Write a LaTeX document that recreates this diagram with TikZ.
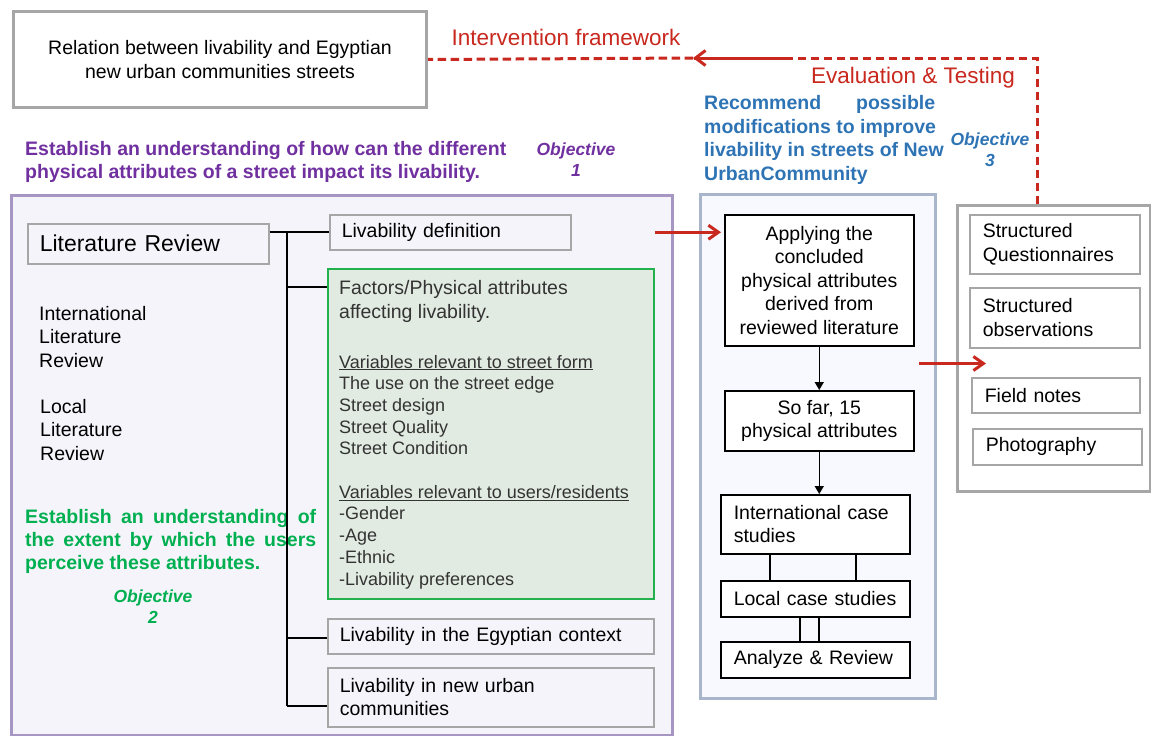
\documentclass[tikz,border=0pt]{standalone}
\usepackage{fontspec}
\setmainfont{Liberation Sans}
\usetikzlibrary{arrows.meta,calc}
\definecolor{redc}{HTML}{C8281E}
\definecolor{purp}{HTML}{7030A0}
\definecolor{grn}{HTML}{00B050}
\definecolor{blu}{HTML}{2E74B5}
\definecolor{boxgray}{HTML}{A6A6A6}
\definecolor{panelpurp}{HTML}{A596C4}
\definecolor{panelpurpfill}{HTML}{F6F4FB}
\definecolor{panelblue}{HTML}{A9B5CB}
\definecolor{panelbluefill}{HTML}{F8F9FE}
\definecolor{greenbox}{HTML}{22B14C}
\definecolor{greenfill}{HTML}{E2EBE2}
\definecolor{txtgray}{HTML}{333333}
\newcommand\fz[2]{\fontsize{#1}{#2}\selectfont}
\begin{document}
\begin{tikzpicture}[x=1pt,y=-1pt,
  panel/.style={line width=3pt, inner sep=0pt, anchor=north west},
  gbox/.style={draw=boxgray, line width=1.5pt, inner sep=0pt, anchor=north west, font=\fz{19.5}{23.5}},
  bbox/.style={draw=black, line width=1.5pt, fill=white, inner sep=0pt, anchor=north west, font=\fz{19.5}{23.5}},
  txt/.style={inner sep=0pt, anchor=west, align=left, font=\fz{19.5}{23.5}},
  reddash/.style={draw=redc, line width=3pt, dash pattern=on 8.5pt off 4.5pt},
  redarrow/.style={draw=redc, line width=3pt, -{Straight Barb[length=10pt,width=14pt]}},
  blkarrow/.style={draw=black, line width=1.5pt, -{Triangle[length=8pt,width=9pt]}},
  tree/.style={draw=black, line width=2pt},
  objlabel/.style={inner sep=0pt, align=center, font=\fz{17.5}{21}\bfseries\itshape},
]
\useasboundingbox (0,0) rectangle (1151,736);

% top box
\node[gbox, fill=white, line width=3pt, minimum width=413pt, minimum height=96pt, align=center] (top) at (12,10) {Relation between livability and Egyptian\\new urban communities streets};

% panels
\node[panel, draw=panelpurp, fill=panelpurpfill, minimum width=661pt, minimum height=540pt] (ppanel) at (10,194) {};
\node[panel, draw=panelblue, fill=panelbluefill, minimum width=235pt, minimum height=504pt] (bpanel) at (699,193) {};
\node[panel, draw=boxgray, fill=white, minimum width=193pt, minimum height=286pt] (grayb) at (956,204) {};

% red labels and dashed feedback
\node[inner sep=0pt, text=redc, font=\fz{22.5}{26}] (intv) at (566,37) {Intervention framework};
\node[inner sep=0pt, text=redc, font=\fz{22.5}{26}] (evt) at (913,78) {Evaluation \& Testing};
\coordinate (vt) at ($(grayb.north west)+(81,0)$);
\coordinate (ah) at (693,58);
\coordinate (solidend) at (787,58);
\draw[reddash] (vt) |- (ah);
\draw[draw=redc, line width=3pt, -{Straight Barb[length=10pt,width=15pt]}] (solidend) -- (ah);
\draw[reddash] (ah) -- (top.east);

% objectives headings
\node[txt, text=purp, font=\fz{19.5}{23}\bfseries] (h1) at (25,162) {Establish an understanding of how can the different\\physical attributes of a street impact its livability.};
\node[objlabel, text=purp] (obj1) at (576,160) {Objective\\1};
\node[txt, text=blu, font=\fz{19.5}{23.7}\bfseries] (h3) at (704,140) {\makebox[231pt][s]{Recommend possible}\\modifications to improve\\livability in streets of New\\UrbanCommunity};
\node[objlabel, text=blu] (obj3) at (990,150) {Objective\\3};

% left panel content
\node[gbox, fill=panelpurpfill, minimum width=241pt, minimum height=40pt, text width=217pt, inner xsep=12pt, align=left, font=\fz{23}{27}] (litrev) at (27,223) {Literature Review};
\node[gbox, fill=panelpurpfill, minimum width=241pt, minimum height=35pt, text width=217pt, inner xsep=12pt, align=left] (livdef) at (329,214) {Livability definition};
\node[anchor=north west, draw=greenbox, fill=greenfill, line width=2pt, minimum width=326pt, minimum height=330pt, inner sep=0pt] (green) at (327,268) {};
\node[gbox, fill=panelpurpfill, minimum width=326pt, minimum height=35pt, text width=302pt, inner xsep=12pt, align=left] (egypt) at (327,618) {Livability in the Egyptian context};
\node[gbox, fill=panelpurpfill, minimum width=326pt, minimum height=59pt, text width=302pt, inner xsep=12pt, align=left] (newurb) at (327,667) {Livability in new urban\\communities};

\node[txt, text=txtgray, font=\fz{19.5}{24}] (fac) at (339,301) {Factors/Physical attributes\\affecting livability.};
\node[txt, text=txtgray, font=\fz{18}{21.7}] (vsf) at (339,405) {\underline{Variables relevant to street form}\\The use on the street edge\\Street design\\Street Quality\\Street Condition};
\node[txt, text=txtgray, font=\fz{18}{21.7}] (vur) at (339,537) {\underline{Variables relevant to users/residents}\\-Gender\\-Age\\-Ethnic\\-Livability preferences};

\node[txt] (intlr) at (39,337) {International\\Literature\\Review};
\node[txt] (loclr) at (40,430) {Local\\Literature\\Review};

\node[txt, text=grn, font=\fz{19.5}{23}\bfseries] (h2) at (25,541) {\makebox[291pt][s]{Establish an understanding of}\\\makebox[291pt][s]{the extent by which the users}\\perceive these attributes.};
\node[objlabel, text=grn] (obj2) at (153,607) {Objective\\2};

% tree connectors
\coordinate (trunk) at (287,233);
\coordinate (trunkend) at (287,706);
\draw[tree] (livdef.west -| litrev.east) -- (livdef.west);
\draw[tree] (trunk) -- (trunkend);
\draw[tree] (trunk |- 0,287) -- (green.west |- 0,287);
\draw[tree] (trunk |- 0,638) -- (egypt.west |- 0,638);
\draw[tree] (trunkend) -- (newurb.west |- trunkend);

% blue panel flow
\node[bbox, minimum width=189pt, minimum height=131pt, align=center] (apply) at (724,214) {Applying the\\concluded\\physical attributes\\derived from\\reviewed literature};
\node[bbox, minimum width=189pt, minimum height=60pt, align=center] (sofar) at (724,390) {So far, 15\\physical attributes};
\node[bbox, minimum width=189pt, minimum height=59pt, text width=163pt, inner xsep=13pt, align=left] (intl) at (720,494) {International case\\studies};
\node[bbox, minimum width=189pt, minimum height=36pt, text width=163pt, inner xsep=13pt, align=left] (local) at (720,580) {Local case studies};
\node[bbox, minimum width=189pt, minimum height=36pt, text width=163pt, inner xsep=13pt, align=left] (anrev) at (720,641) {Analyze \& Review};
\draw[blkarrow] (apply.south) -- (sofar.north);
\draw[blkarrow] (sofar.south) -- (sofar.south |- intl.north);
\draw[draw=black, line width=1.8pt] ($(intl.south west)+(50,0)$) -- ($(local.north west)+(50,0)$);
\draw[draw=black, line width=1.8pt] ($(intl.south west)+(136,0)$) -- ($(local.north west)+(136,0)$);
\draw[draw=black, line width=1.8pt] ($(local.south west)+(80,0)$) -- ($(anrev.north west)+(80,0)$);
\draw[draw=black, line width=1.8pt] ($(local.south west)+(99,0)$) -- ($(anrev.north west)+(99,0)$);

% gray box methods
\node[gbox, fill=white, minimum width=170pt, minimum height=59pt, text width=144pt, inner xsep=13pt, align=left] (quest) at (969,214) {Structured\\Questionnaires};
\node[gbox, fill=white, minimum width=170pt, minimum height=60pt, text width=144pt, inner xsep=13pt, align=left] (obs) at (969,287) {Structured\\observations};
\node[gbox, fill=white, minimum width=168pt, minimum height=35pt, text width=142pt, inner xsep=13pt, align=left] (field) at (971,377) {Field notes};
\node[gbox, fill=white, minimum width=169pt, minimum height=36pt, text width=143pt, inner xsep=13pt, align=left] (photo) at (972,428) {Photography};

% red arrows
\draw[redarrow] (green.east |- livdef.east) -- ($(apply.west |- livdef.east)+(-3,0)$);
\draw[redarrow] ($(apply.south east)+(4,17)$) -- ($(obs.south west)+(17,15)$);
\end{tikzpicture}
\end{document}
